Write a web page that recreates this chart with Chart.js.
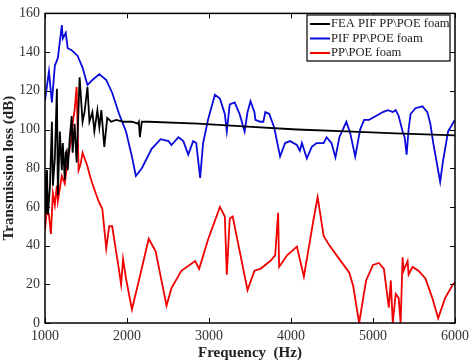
<!DOCTYPE html>
<html>
<head>
<meta charset="utf-8">
<script src="https://cdn.jsdelivr.net/npm/chart.js@4/dist/chart.umd.min.js"></script>
<style>
  html, body { margin: 0; padding: 0; background: #fff; }
  #wrap { width: 474px; height: 364px; }
</style>
</head>
<body>
<div id="wrap"><canvas id="lossChart"></canvas></div>
<script>
// FEA PIF PP\POE foam (black)
const feaHz = [1000, 1012, 1024, 1036, 1060, 1084, 1096, 1120, 1145, 1157, 1181, 1205, 1217, 1241, 1253, 1265, 1277, 1301, 1325, 1337, 1361, 1386, 1422, 1458, 1482, 1518, 1542, 1578, 1602, 1639, 1663, 1687, 1723, 1759, 1807, 1867, 1964, 2060, 2133, 2145, 2157, 2181, 2265, 2867, 3470, 4072, 4675, 5277, 6000];
const feaDb = [57, 75, 79, 56, 70, 104, 71, 85, 121, 66, 99, 79, 93, 74, 88, 89, 79, 95, 107, 88, 103, 83, 127, 104, 109, 122, 104, 109, 99, 110, 101, 110, 91, 106, 104, 105, 104, 104, 103, 104, 96, 104, 104, 103, 101.5, 100, 99, 98, 97];

// PIF PP\POE foam (blue)
const pifHz = [1000, 1048, 1084, 1120, 1157, 1205, 1217, 1253, 1277, 1325, 1398, 1458, 1518, 1578, 1663, 1747, 1819, 1904, 1988, 2060, 2108, 2181, 2301, 2410, 2506, 2542, 2627, 2687, 2747, 2807, 2844, 2892, 2928, 2988, 3072, 3133, 3193, 3217, 3253, 3313, 3373, 3434, 3470, 3506, 3554, 3566, 3626, 3663, 3687, 3735, 3795, 3867, 3928, 3988, 4072, 4108, 4133, 4193, 4253, 4313, 4398, 4434, 4494, 4542, 4590, 4675, 4723, 4783, 4843, 4892, 4952, 5036, 5120, 5181, 5241, 5277, 5313, 5361, 5386, 5410, 5434, 5458, 5518, 5602, 5663, 5699, 5735, 5819, 5855, 5916, 6000];
const pifDb = [115, 130, 114, 133, 137, 154, 147, 150, 142, 141, 138, 132, 123, 125.6, 128.6, 125.6, 119, 108, 99, 86, 76, 80, 90, 95, 94, 92, 96, 94, 87, 94, 93, 75, 93, 105, 118, 116, 108, 99, 113, 114, 108, 99, 109, 114.6, 109, 105, 104, 104, 109, 108, 101, 86, 93, 94, 92, 89, 93, 85, 91, 93, 93, 96, 93, 85.6, 96, 104, 98, 86, 100, 105, 105, 107, 109, 110, 109, 110, 107, 99, 96, 87, 100, 108, 111, 112, 109, 103, 93, 73, 84, 99, 105];

// PP\POE foam (red)
const ppHz = [1000, 1024, 1048, 1072, 1096, 1120, 1145, 1157, 1205, 1241, 1277, 1325, 1337, 1361, 1386, 1410, 1434, 1458, 1518, 1542, 1578, 1627, 1663, 1699, 1747, 1783, 1819, 1867, 1904, 1928, 1952, 1988, 2060, 2145, 2265, 2349, 2482, 2542, 2663, 2831, 2880, 2988, 3133, 3193, 3217, 3253, 3289, 3470, 3554, 3627, 3747, 3807, 3843, 3855, 3952, 4072, 4157, 4277, 4325, 4398, 4470, 4590, 4711, 4759, 4831, 4916, 5000, 5072, 5133, 5193, 5217, 5241, 5277, 5313, 5337, 5361, 5373, 5422, 5434, 5482, 5554, 5639, 5723, 5795, 5880, 5976, 6000];
const ppDb = [48, 59, 56, 46, 67, 61, 71, 63, 76, 72, 84, 96, 103, 110, 122, 79, 82, 88, 81, 77, 72, 66, 62, 59, 38.5, 50, 50, 37, 27, 20, 33, 23, 7, 22, 43.5, 37, 9, 18, 27, 32, 28, 43, 60, 55, 25, 54, 55, 17, 27, 28, 32, 35, 57, 29, 35, 39.5, 24, 54, 65, 45, 40, 33, 26, 19, 0, 22, 30, 31, 28, 8, 22, 0, 15, 13, 0, 34, 27, 32, 25, 29, 27, 23, 13, 2.5, 13, 20, 21];

const xTicks = [1000, 2000, 3000, 4000, 5000, 6000];
const yTicks = [0, 20, 40, 60, 80, 100, 120, 140, 160];
const seriesNames = ["FEA PIF PP\\POE foam", "PIF PP\\POE foam", "PP\\POE foam"];
const seriesColors = ["#000000", "#0a0adc", "#f00000"];

function toPoints(xs, ys) {
    return xs.map(function (x, i) { return { x: x, y: ys[i] }; });
}

const serif = "'Liberation Serif', 'DejaVu Serif', serif";

// frame, inward ticks and the boxed legend
const framePlugin = {
    id: "frame",
    afterDatasetsDraw: function (chart) {
        const ctx = chart.ctx;
        const a = chart.chartArea;
        const xs = chart.scales.x;
        const ys = chart.scales.y;
        ctx.save();
        ctx.strokeStyle = "#000";
        ctx.lineWidth = 1.5;
        ctx.strokeRect(a.left, a.top, a.right - a.left, a.bottom - a.top);
        ctx.lineWidth = 1;
        xTicks.forEach(function (v) {
            const px = Math.round(xs.getPixelForValue(v)) + 0.5;
            ctx.beginPath();
            ctx.moveTo(px, a.bottom); ctx.lineTo(px, a.bottom - 5);
            ctx.moveTo(px, a.top); ctx.lineTo(px, a.top + 5);
            ctx.stroke();
        });
        yTicks.forEach(function (v) {
            const py = Math.round(ys.getPixelForValue(v)) + 0.5;
            ctx.beginPath();
            ctx.moveTo(a.left, py); ctx.lineTo(a.left + 5, py);
            ctx.moveTo(a.right, py); ctx.lineTo(a.right - 5, py);
            ctx.stroke();
        });

        // legend
        const bx = 307, by = 15, bw = 143, bh = 46;
        ctx.fillStyle = "#fff";
        ctx.fillRect(bx, by, bw, bh);
        ctx.strokeStyle = "#000";
        ctx.lineWidth = 1.2;
        ctx.strokeRect(bx, by, bw, bh);
        ctx.font = "12.6px " + serif;
        ctx.textBaseline = "middle";
        seriesNames.forEach(function (name, i) {
            const y = by + 9 + i * 14.5;
            ctx.strokeStyle = seriesColors[i];
            ctx.lineWidth = 2;
            ctx.beginPath();
            ctx.moveTo(bx + 3, y); ctx.lineTo(bx + 23, y);
            ctx.stroke();
            ctx.fillStyle = "#222";
            ctx.fillText(name, bx + 24, y);
        });
        ctx.restore();
    }
};

new Chart(document.getElementById("lossChart").getContext("2d"), {
    type: "line",
    data: {
        datasets: [
            { label: seriesNames[0], data: toPoints(feaHz, feaDb), borderColor: seriesColors[0], order: 0 },
            { label: seriesNames[1], data: toPoints(pifHz, pifDb), borderColor: seriesColors[1], order: 2 },
            { label: seriesNames[2], data: toPoints(ppHz, ppDb), borderColor: seriesColors[2], order: 1 }
        ]
    },
    options: {
        responsive: true,
        maintainAspectRatio: false,
        animation: false,
        elements: {
            point: { radius: 0 },
            line: { borderWidth: 1.8, tension: 0, fill: false }
        },
        layout: { padding: { top: 7, right: 15, left: 0, bottom: 0 } },
        plugins: { legend: { display: false }, tooltip: { enabled: false } },
        scales: {
            x: {
                type: "linear",
                min: 1000,
                max: 6000,
                afterFit: function (s) { s.height = 41; },
                afterBuildTicks: function (s) { s.ticks = xTicks.map(function (v) { return { value: v }; }); },
                grid: { display: false, drawTicks: false },
                border: { display: false },
                ticks: {
                    color: "#333", padding: 5, maxRotation: 0,
                    font: { family: serif, size: 14 },
                    callback: function (v) { return String(v); }
                },
                title: {
                    display: true,
                    text: "Frequency  (Hz)",
                    color: "#222",
                    padding: { top: 0, bottom: 2 },
                    font: { family: serif, size: 15, weight: "bold" }
                }
            },
            y: {
                min: 0,
                max: 160,
                afterFit: function (s) { s.width = 45; },
                afterBuildTicks: function (s) { s.ticks = yTicks.map(function (v) { return { value: v }; }); },
                grid: { display: false, drawTicks: false },
                border: { display: false },
                ticks: { color: "#333", padding: 5, font: { family: serif, size: 14 } },
                title: {
                    display: true,
                    text: "Transmission loss (dB)",
                    color: "#222",
                    padding: { top: 0, bottom: 0 },
                    font: { family: serif, size: 15, weight: "bold" }
                }
            }
        }
    },
    plugins: [framePlugin]
});
</script>
</body>
</html>
